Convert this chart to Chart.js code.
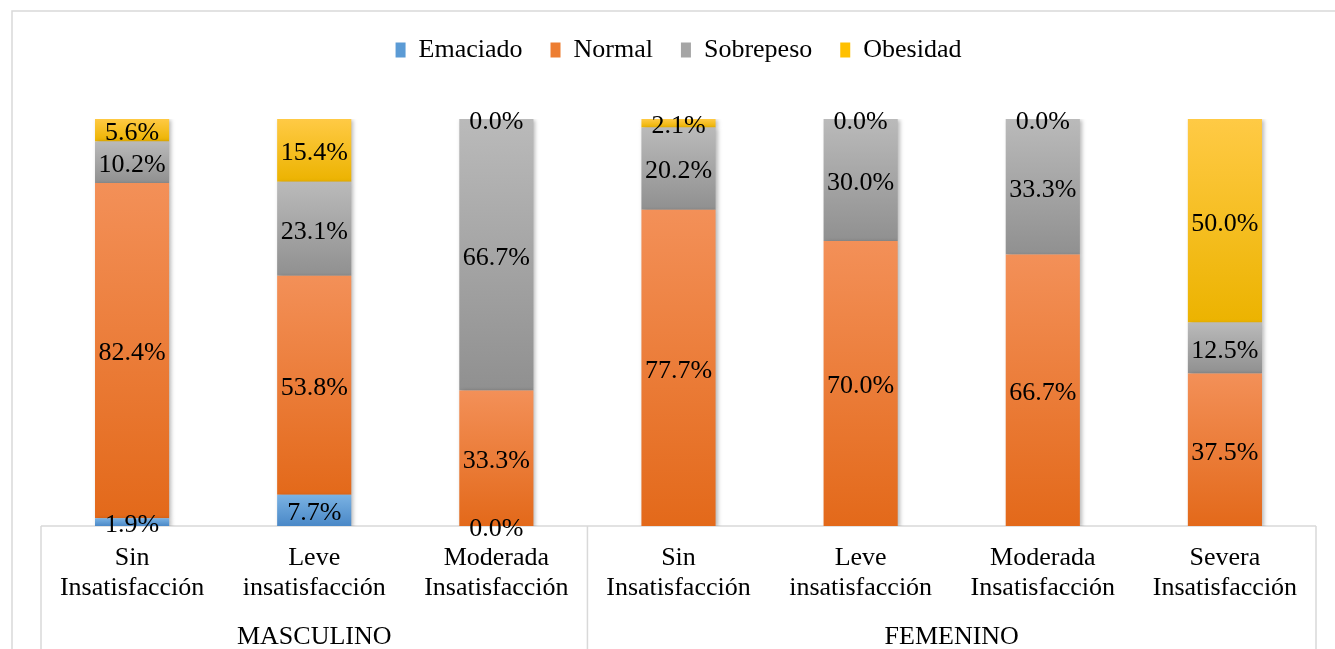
<!DOCTYPE html>
<html>
<head>
<meta charset="utf-8">
<script src="https://cdn.jsdelivr.net/npm/chart.js@4"></script>
<style>
  html, body { margin: 0; padding: 0; background: #fff; }
  #wrap { width: 1335px; height: 649px; position: relative; }
</style>
</head>
<body>
<div id="wrap"><canvas id="chart"></canvas></div>
<script>
/* ---- Data ---- */
const categories = [
    ['Sin', 'Insatisfacción'],
    ['Leve', 'insatisfacción'],
    ['Moderada', 'Insatisfacción'],
    ['Sin', 'Insatisfacción'],
    ['Leve', 'insatisfacción'],
    ['Moderada', 'Insatisfacción'],
    ['Severa', 'Insatisfacción'],
];
const groups = ['MASCULINO', 'FEMENINO'];
const groupSizes = [3, 4];

const seriesNames = ['Emaciado', 'Normal', 'Sobrepeso', 'Obesidad'];
const emaciado = [1.9, 7.7, 0.0, null, null, null, null];
const normal = [82.4, 53.8, 33.3, 77.7, 70.0, 66.7, 37.5];
const sobrepeso = [10.2, 23.1, 66.7, 20.2, 30.0, 33.3, 12.5];
const obesidad = [5.6, 15.4, 0.0, 2.1, 0.0, 0.0, 50.0];
const seriesValues = [emaciado, normal, sobrepeso, obesidad];

/* ---- Styles ---- */
const FONT = '"Liberation Serif", "Times New Roman", serif';
const FONT_SIZE = 26;
const LINE_GRAY = '#d9d9d9';
// [top, bottom, legend] colours per series
const seriesColors = [
    ['#7ab2e3', '#4a88c7', '#5b9bd5'],
    ['#f39058', '#e3691a', '#ed7d31'],
    ['#bababa', '#909090', '#a5a5a5'],
    ['#ffca45', '#ecb300', '#ffc000'],
];
const LEGEND_HEIGHT = 110;

function segmentGradient(ctx, d) {
    const chart = ctx.chart;
    const y = chart.scales.y;
    const i = ctx.dataIndex;
    const [top, bottom, flat] = seriesColors[d];
    if (!chart.chartArea || !y || i === undefined) return flat;
    let start = 0;
    for (let k = 0; k < d; k++) start += seriesValues[k][i] || 0;
    const end = start + (seriesValues[d][i] || 0);
    const yTop = y.getPixelForValue(end);
    const yBot = y.getPixelForValue(start);
    if (!isFinite(yTop) || !isFinite(yBot) || Math.abs(yBot - yTop) < 0.5) return flat;
    const g = chart.ctx.createLinearGradient(0, yTop, 0, yBot);
    g.addColorStop(0, top);
    g.addColorStop(1, bottom);
    return g;
}

/* ---- Plugins ---- */
const legendHeightPlugin = {
    id: 'legendHeight',
    beforeLayout(chart) {
        const legend = chart.legend;
        if (!legend || legend._fitWrapped) return;
        const origFit = legend.fit;
        legend.fit = function () {
            origFit.call(this);
            this.height = LEGEND_HEIGHT;
        };
        legend._fitWrapped = true;
    }
};

const framePlugin = {
    id: 'frame',
    beforeDraw(chart) {
        const { ctx, chartArea, scales } = chart;
        const x = scales.x;
        ctx.save();
        ctx.fillStyle = '#fff';
        ctx.fillRect(0, 0, chart.width, chart.height);
        ctx.strokeStyle = LINE_GRAY;
        ctx.lineWidth = 1.5;
        ctx.beginPath();
        ctx.moveTo(12, chart.height + 2);
        ctx.lineTo(12, 11);
        ctx.lineTo(chart.width + 2, 11);
        ctx.stroke();

        // category axis line + group dividers
        ctx.beginPath();
        ctx.moveTo(chartArea.left, chartArea.bottom);
        ctx.lineTo(chartArea.right, chartArea.bottom);
        const step = (x.right - x.left) / categories.length;
        let idx = 0;
        const dividers = [x.left];
        groupSizes.forEach(n => { idx += n; dividers.push(x.left + step * idx); });
        dividers.forEach(px => {
            ctx.moveTo(px, chartArea.bottom);
            ctx.lineTo(px, chart.height);
        });
        ctx.stroke();
        ctx.restore();
    }
};

const shadowPlugin = {
    id: 'barShadow',
    beforeDatasetsDraw(chart) {
        const ctx = chart.ctx;
        ctx.save();
        ctx.shadowColor = 'rgba(0, 0, 0, 0.28)';
        ctx.shadowBlur = 4;
        ctx.shadowOffsetX = 2;
        ctx.shadowOffsetY = 1;
    },
    afterDatasetsDraw(chart) {
        chart.ctx.restore();
    }
};

const valueLabelsPlugin = {
    id: 'valueLabels',
    afterDatasetsDraw(chart) {
        const ctx = chart.ctx;
        ctx.save();
        ctx.font = `${FONT_SIZE}px ${FONT}`;
        ctx.fillStyle = '#000';
        ctx.textAlign = 'center';
        ctx.textBaseline = 'middle';
        chart.data.datasets.forEach((ds, d) => {
            const meta = chart.getDatasetMeta(d);
            meta.data.forEach((bar, i) => {
                const v = ds.data[i];
                if (v === null || v === undefined) return;
                const { x, y, base } = bar.getProps(['x', 'y', 'base'], true);
                ctx.fillText(v.toFixed(1) + '%', x, (y + base) / 2 + 3);
            });
        });
        ctx.restore();
    }
};

const groupLabelsPlugin = {
    id: 'groupLabels',
    afterDraw(chart) {
        const { ctx, scales } = chart;
        const x = scales.x;
        const step = (x.right - x.left) / categories.length;
        ctx.save();
        ctx.font = `${FONT_SIZE}px ${FONT}`;
        ctx.fillStyle = '#000';
        ctx.textAlign = 'center';
        ctx.textBaseline = 'middle';
        let start = 0;
        groups.forEach((name, g) => {
            const left = x.left + step * start;
            const right = left + step * groupSizes[g];
            ctx.fillText(name, (left + right) / 2, 637);
            start += groupSizes[g];
        });
        ctx.restore();
    }
};

/* ---- Chart ---- */
const datasets = seriesNames.map((name, d) => ({
    label: name,
    data: seriesValues[d],
    backgroundColor: (ctx) => segmentGradient(ctx, d),
    borderWidth: 0,
    categoryPercentage: 1,
    barPercentage: 0.407,
}));

new Chart(document.getElementById('chart'), {
    type: 'bar',
    data: { labels: categories, datasets },
    plugins: [legendHeightPlugin, framePlugin, shadowPlugin, valueLabelsPlugin, groupLabelsPlugin],
    options: {
        responsive: true,
        maintainAspectRatio: false,
        animation: false,
        layout: { padding: { left: 41, right: 19, top: 9, bottom: 0 } },
        plugins: {
            legend: {
                position: 'top',
                labels: {
                    font: { family: FONT, size: FONT_SIZE },
                    color: '#000',
                    boxWidth: 10,
                    boxHeight: 15,
                    padding: 28,
                    generateLabels(chart) {
                        const items = Chart.defaults.plugins.legend.labels.generateLabels(chart);
                        return items.map((it, k) => Object.assign(it, {
                            fillStyle: seriesColors[k][2],
                            strokeStyle: seriesColors[k][2],
                            lineWidth: 0,
                        }));
                    },
                },
            },
            tooltip: { enabled: false },
        },
        scales: {
            x: {
                stacked: true,
                grid: { display: false },
                border: { display: false },
                ticks: {
                    autoSkip: false,
                    maxRotation: 0,
                    padding: 9,
                    color: '#000',
                    font: { family: FONT, size: FONT_SIZE, lineHeight: 1.16 },
                },
                afterFit(scale) { scale.height = 123; },
            },
            y: {
                stacked: true,
                display: false,
                min: 0,
                max: 100,
            },
        },
    },
});
</script>
</body>
</html>
